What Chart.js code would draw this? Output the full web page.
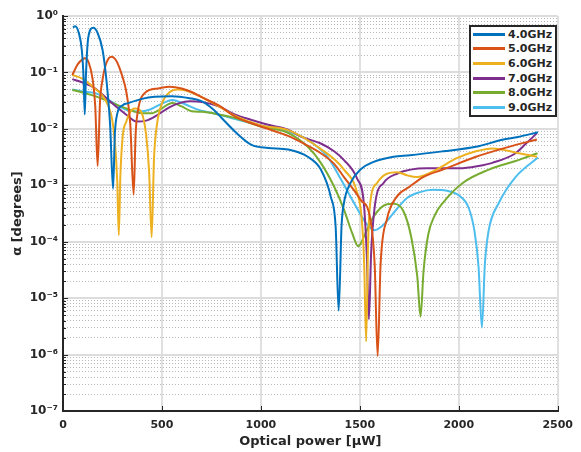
<!DOCTYPE html>
<html><head><meta charset="utf-8">
<script src="https://cdn.jsdelivr.net/npm/chart.js@4/dist/chart.umd.min.js"></script>
<style>
html,body{margin:0;padding:0;background:#fff;}
#wrap{position:relative;width:581px;height:452px;}
#legend{position:absolute;left:469px;top:25px;width:84px;border:2px solid #262626;background:#fff;padding:0;font:bold 11px "DejaVu Sans";color:#262626;}
.row{height:14.6px;display:flex;align-items:center;white-space:nowrap;}
.sw{width:32px;height:3px;margin-left:2px;margin-right:3px;flex:none;}
</style></head><body>
<div id="wrap"><canvas id="c" width="581" height="452"></canvas><div id="legend"></div></div>
<script>
// ---- data ----
const seriesLabels = ['4.0GHz','5.0GHz','6.0GHz','7.0GHz','8.0GHz','9.0GHz'];
const seriesColors = ['#0072BD','#D95319','#EDB120','#7E2F8E','#77AC30','#4DBEEE'];

const p4 = [50,62,80,95,104,110,116,128,153,175,200,220,238,253,262,275,300,330,400,463,550,640,700,760,803,870,953,1037,1137,1237,1303,1353,1378,1393,1408,1420,1453,1503,1570,1670,1753,1920,2087,2220,2300,2400];
const a4 = [0.63,0.66,0.5,0.25,0.08,0.018,0.09,0.42,0.62,0.5,0.25,0.07,0.012,0.00087,0.008,0.019,0.026,0.0286,0.034,0.037,0.038,0.035,0.031,0.022,0.0154,0.0089,0.0052,0.0046,0.0043,0.0032,0.0019,0.00063,0.00018,0.000006,0.0002,0.00049,0.0011,0.0019,0.0026,0.0032,0.0034,0.004,0.0048,0.0064,0.0072,0.0087];

const p5 = [47,75,100,112,130,150,163,175,187,200,220,245,270,300,320,340,357,367,378,413,480,540,600,650,703,787,870,1000,1137,1203,1303,1370,1420,1503,1553,1575,1590,1605,1637,1687,1753,1820,1920,2087,2253,2395];
const a5 = [0.09,0.14,0.172,0.178,0.15,0.075,0.025,0.0022,0.03,0.075,0.15,0.19,0.16,0.085,0.045,0.012,0.00068,0.008,0.0203,0.043,0.052,0.056,0.052,0.045,0.036,0.026,0.0165,0.011,0.0075,0.0058,0.0037,0.0024,0.0014,0.00056,0.00025,0.00004,0.00000093,0.00004,0.00025,0.00063,0.00095,0.0014,0.0019,0.0032,0.0048,0.0065];

const p6 = [47,100,130,160,197,230,248,262,274,282,290,302,320,340,362,385,403,420,435,448,460,475,503,540,580,620,690,787,870,1000,1137,1303,1420,1487,1510,1522,1532,1542,1553,1587,1637,1690,1740,1787,1887,1987,2087,2170,2303,2395];
const a6 = [0.09,0.077,0.064,0.052,0.04,0.025,0.015,0.006,0.0012,0.00013,0.0015,0.0075,0.0135,0.02,0.023,0.022,0.017,0.008,0.0018,0.00012,0.003,0.012,0.03,0.045,0.05,0.048,0.038,0.025,0.017,0.0115,0.0095,0.0044,0.0019,0.00073,0.00025,0.00004,0.0000017,0.0001,0.0005,0.0011,0.0016,0.0017,0.0015,0.0014,0.0019,0.003,0.004,0.0045,0.0037,0.0032];

const p7 = [47,100,163,247,320,372,420,470,537,587,640,703,787,870,953,1037,1137,1203,1303,1370,1420,1487,1520,1535,1546,1557,1578,1620,1687,1837,2003,2100,2170,2287,2340,2395];
const a7 = [0.076,0.066,0.052,0.0286,0.0178,0.0135,0.014,0.017,0.024,0.0286,0.031,0.03,0.025,0.0178,0.0144,0.0118,0.0097,0.0073,0.0055,0.004,0.0028,0.0013,0.00049,0.00006,0.0000042,0.00006,0.00049,0.0011,0.0016,0.002,0.002,0.0022,0.0025,0.0037,0.0055,0.0084];

const p8 = [47,100,163,247,320,400,450,487,553,600,650,703,787,870,1000,1137,1237,1303,1370,1420,1462,1492,1528,1570,1637,1670,1720,1760,1790,1807,1822,1845,1880,1920,2020,2153,2287,2398];
const a8 = [0.049,0.044,0.038,0.029,0.023,0.019,0.019,0.0217,0.0286,0.025,0.0205,0.02,0.018,0.0155,0.011,0.0085,0.0048,0.0025,0.00095,0.00037,0.00014,0.000083,0.00014,0.00028,0.00046,0.00047,0.00035,0.00012,0.000025,0.0000047,0.00003,0.00013,0.0003,0.00049,0.0011,0.0019,0.0027,0.0037];

const p9 = [47,100,163,247,320,387,440,487,553,620,687,787,870,1000,1137,1237,1337,1403,1470,1537,1573,1620,1687,1737,1800,1870,1940,2003,2050,2080,2100,2117,2132,2150,2203,2287,2400];
const a9 = [0.05,0.046,0.043,0.03,0.0217,0.0203,0.022,0.0266,0.0326,0.027,0.0217,0.018,0.015,0.0115,0.009,0.0064,0.0032,0.0013,0.00049,0.0002,0.00016,0.0002,0.00038,0.00059,0.00075,0.00083,0.0008,0.00065,0.0004,0.00015,0.000036,0.000003,0.00004,0.00015,0.00049,0.0014,0.0031];

const powers = [p4,p5,p6,p7,p8,p9];
const alphas = [a4,a5,a6,a7,a8,a9];

const xTickValues = [0,500,1000,1500,2000,2500];
const yExponents = [-7,-6,-5,-4,-3,-2,-1,0];

// ---- helpers ----
const supMap = {'-':'\u207B','0':'\u2070','1':'\u00B9','2':'\u00B2','3':'\u00B3','4':'\u2074','5':'\u2075','6':'\u2076','7':'\u2077','8':'\u2078','9':'\u2079'};
function expLabel(e){ return '10' + String(e).split('').map(c => supMap[c]).join(''); }

const datasets = seriesLabels.map((lab,i) => ({
  label: lab,
  data: powers[i].map((p,j) => ({x:p, y:alphas[i][j]})),
  borderColor: seriesColors[i],
  backgroundColor: seriesColors[i],
  borderWidth: 2,
  pointRadius: 0,
  fill: false,
  cubicInterpolationMode: 'monotone'
}));

const txt = '#262626';
const tickFont = {family:'DejaVu Sans', weight:'bold', size:11};
const yTickFont = {family:'DejaVu Sans', weight:'bold', size:12};
const titleFont = {family:'DejaVu Sans', weight:'bold', size:13};

const innerTicks = {
  id:'innerTicks',
  afterDatasetsDraw(chart){
    const {ctx, chartArea:a, scales:{x,y}} = chart;
    ctx.save();
    ctx.strokeStyle = txt; ctx.lineWidth = 1;
    y.ticks.forEach(t => {
      const py = Math.round(y.getPixelForValue(t.value)) + 0.5;
      const len = t.major ? 5 : 3;
      ctx.beginPath(); ctx.moveTo(a.left, py); ctx.lineTo(a.left + len, py); ctx.stroke();
    });
    x.ticks.forEach(t => {
      const px = Math.round(x.getPixelForValue(t.value)) + 0.5;
      ctx.beginPath(); ctx.moveTo(px, a.bottom); ctx.lineTo(px, a.bottom - 5); ctx.stroke();
    });
    ctx.restore();
  }
};

const chart = new Chart(document.getElementById('c'), {
  type: 'line',
  data: { datasets },
  plugins: [innerTicks],
  options: {
    responsive: false, animation: false, devicePixelRatio: 1,
    layout: { padding: { left: 0, right: 18, top: 16, bottom: 0 } },
    plugins: { legend: { display: false }, tooltip: { enabled: false } },
    scales: {
      x: {
        type: 'linear', min: 0, max: 2500,
        afterBuildTicks: s => { s.ticks = xTickValues.map(v => ({value: v})); },
        afterFit: s => { s.height = 41; },
        ticks: { font: tickFont, color: txt, padding: 8, maxRotation: 0, autoSkip: false, callback: v => String(v) },
        grid: { color: '#e0e0e0', lineWidth: 2, drawTicks: false },
        border: { color: txt, width: 2 },
        title: { display: true, text: 'Optical power [\u00B5W]', font: titleFont, color: txt, padding: { top: 0, bottom: 3 } }
      },
      y: {
        type: 'logarithmic', min: 1e-7, max: 1,
        afterBuildTicks: s => {
          const t = [];
          yExponents.forEach((e, i) => {
            for (let m = 1; m <= 9; m++) {
              if (i === yExponents.length - 1 && m > 1) break;
              t.push({ value: m * Math.pow(10, e), major: m === 1, exp: e });
            }
          });
          s.ticks = t;
        },
        afterFit: s => { s.width = 63; },
        ticks: {
          font: yTickFont, color: txt, padding: 5, autoSkip: false,
          callback: (v, i, ts) => ts[i].major ? expLabel(ts[i].exp) : ''
        },
        grid: {
          color: c => (c.tick && c.tick.major) ? '#dcdcdc' : '#b8b8b8',
          lineWidth: c => (c.tick && c.tick.major) ? 2 : 1,
          drawTicks: false
        },
        border: { color: txt, width: 2, dash: c => (c.tick && !c.tick.major) ? [1, 2] : [] },
        title: { display: true, text: '\u03B1 [degrees]', font: titleFont, color: txt, padding: { top: 10, bottom: 0 } }
      }
    }
  }
});

// HTML legend built from the series
const lg = document.getElementById('legend');
seriesLabels.forEach((lab, i) => {
  const r = document.createElement('div'); r.className = 'row';
  const sw = document.createElement('span'); sw.className = 'sw'; sw.style.background = seriesColors[i];
  const t = document.createElement('span'); t.textContent = lab;
  r.appendChild(sw); r.appendChild(t); lg.appendChild(r);
});
</script>
</body></html>
